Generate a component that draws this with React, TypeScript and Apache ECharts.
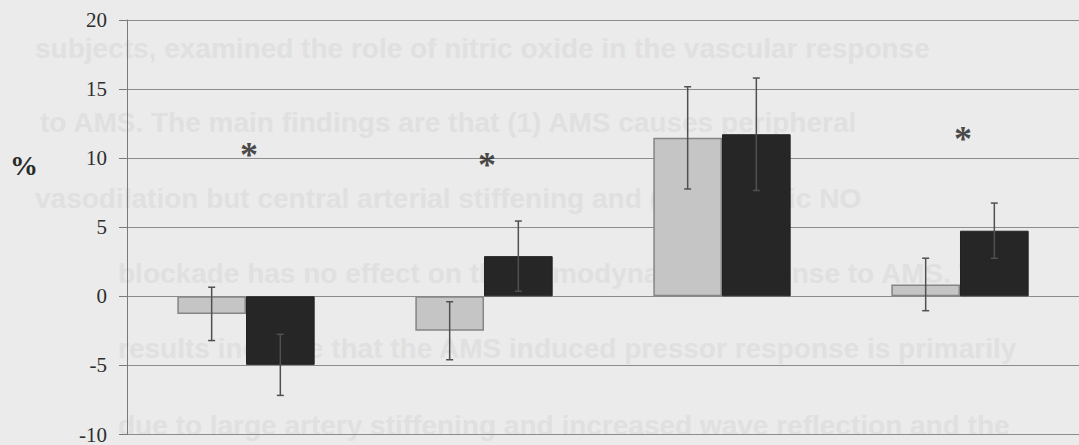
import React, { useEffect, useRef } from "react";
import * as echarts from "echarts";

const categories = ["Group 1", "Group 2", "Group 3", "Group 4"];
const greyValues = [-1.27, -2.49, 11.47, 0.86];
const greyErrors = [1.93, 2.1, 3.7, 1.9];
const blackValues = [-4.96, 2.91, 11.73, 4.75];
const blackErrors = [2.21, 2.54, 4.07, 2.0];
const starValues: (number | null)[] = [10.8, 10.05, null, 12.0];
const yMin = -10;
const yMax = 20;
const yInterval = 5;
const yUnit = "%";
const backgroundLines = [
  "subjects, examined the role of nitric oxide in the vascular response",
  "to AMS. The main findings are that (1) AMS causes peripheral",
  "vasodilation but central arterial stiffening and (2) systemic NO",
  "blockade has no effect on the hemodynamic response to AMS. The",
  "results indicate that the AMS induced pressor response is primarily",
  "due to large artery stiffening and increased wave reflection and the",
];
const backgroundLineY = [48, 122, 198, 273, 348, 425];
const backgroundLineX = [35, 40, 35, 118, 118, 118];

const GAP = 0.423;

function errorRender(side: number) {
  return (params: any, api: any) => {
    const cat = api.value(0);
    const v = api.value(1);
    const e = api.value(2);
    const bandW = api.size([1, 0])[0];
    const off = (side * bandW * (1 - GAP)) / 4;
    const top = api.coord([cat, v + e]);
    const bot = api.coord([cat, v - e]);
    const x = top[0] + off;
    const cap = 3.5;
    const style = { stroke: "#505050", lineWidth: 1.5 };
    return {
      type: "group",
      children: [
        { type: "line", shape: { x1: x, y1: top[1], x2: x, y2: bot[1] }, style },
        { type: "line", shape: { x1: x - cap, y1: top[1], x2: x + cap, y2: top[1] }, style },
        { type: "line", shape: { x1: x - cap, y1: bot[1], x2: x + cap, y2: bot[1] }, style },
      ],
    };
  };
}

export default function App() {
  const ref = useRef<HTMLDivElement>(null);
  useEffect(() => {
    if (!ref.current) return;
    const chart = echarts.init(ref.current, undefined, { renderer: "svg" });
    const option: any = {
      animation: false,
      backgroundColor: "#ebebeb",
      graphic: [
        ...backgroundLines.map((t, i) => ({
          type: "text",
          x: backgroundLineX[i],
          y: backgroundLineY[i],
          z: -10,
          silent: true,
          style: {
            text: t,
            fill: "#e0e0e0",
            font: "bold 28px 'Liberation Sans', Arial, sans-serif",
            lineHeight: 20,
            verticalAlign: "middle",
          },
        })),
        {
          type: "text",
          x: 10,
          y: 165,
          style: {
            text: yUnit,
            fill: "#2a2a2a",
            font: "bold 28px 'Liberation Serif', 'Times New Roman', serif",
            verticalAlign: "middle",
          },
        },
      ],
      grid: { left: 127, top: 20, width: 964, height: 417, containLabel: false },
      xAxis: {
        type: "category",
        data: categories,
        axisLine: { show: false },
        axisTick: { show: false },
        axisLabel: { show: false },
        splitLine: { show: false },
      },
      yAxis: {
        type: "value",
        min: yMin,
        max: yMax,
        interval: yInterval,
        axisLine: { show: true, lineStyle: { color: "#7a7a7a", width: 1 } },
        axisTick: { show: true, length: 8, lineStyle: { color: "#7a7a7a" } },
        axisLabel: {
          color: "#2e2e2e",
          fontSize: 21,
          fontFamily: "'Liberation Serif', 'Times New Roman', serif",
          margin: 20,
        },
        splitLine: { show: true, lineStyle: { color: "#8c8c8c", width: 1 } },
      },
      series: [
        {
          type: "bar",
          name: "grey",
          data: greyValues,
          barGap: "0%",
          barCategoryGap: GAP * 100 + "%",
          itemStyle: { color: "#c5c5c5", borderColor: "#858585", borderWidth: 1.5 },
        },
        {
          type: "bar",
          name: "black",
          data: blackValues,
          barGap: "0%",
          barCategoryGap: GAP * 100 + "%",
          itemStyle: { color: "#262626", borderColor: "#222222", borderWidth: 1 },
        },
        {
          type: "custom",
          name: "greyErr",
          z: 5,
          renderItem: errorRender(-1),
          data: greyValues.map((v, i) => [i, v, greyErrors[i]]),
        },
        {
          type: "custom",
          name: "blackErr",
          z: 5,
          renderItem: errorRender(1),
          data: blackValues.map((v, i) => [i, v, blackErrors[i]]),
        },
        {
          type: "scatter",
          name: "sig",
          symbolSize: 1,
          itemStyle: { color: "rgba(0,0,0,0)" },
          z: 6,
          data: starValues.map((v, i) => (v === null ? [i, null] : [i, v])),
          label: {
            show: true,
            position: "inside",
            formatter: "*",
            color: "#1e1e1e",
            fontSize: 36,
            lineHeight: 18,
            fontWeight: "bold",
            fontFamily: "'Liberation Serif', 'Times New Roman', serif",
            offset: [3, 8],
          },
        },
      ],
    };
    chart.setOption(option);
    return () => chart.dispose();
  }, []);
  return (
    <div
      ref={ref}
      style={{ position: "fixed", left: 0, top: 0, width: 1079, height: 445, background: "#ebebeb" }}
    />
  );
}
